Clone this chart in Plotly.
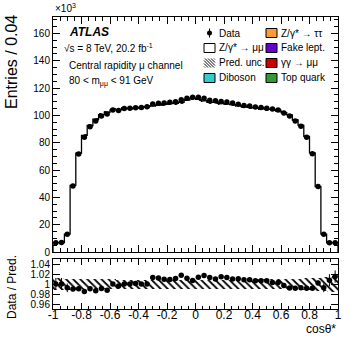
import numpy as np
import plotly.graph_objects as go

# bins of cos(theta*) , width 0.04
edges = np.round(np.linspace(-1, 1, 51), 2)
centers = (edges[:-1] + edges[1:]) / 2

# entries in units of 10^3
data = [6.8, 6.9, 13.0, 48.3, 71.7, 84.0, 91.7, 95.9, 99.6, 101.0,
        104.0, 103.6, 105.0, 105.2, 105.6, 105.8, 106.4, 108.3, 108.9, 109.1,
        109.6, 110.0, 111.5, 112.5, 113.2, 113.2, 112.5, 111.0, 110.7, 110.2,
        109.7, 109.0, 108.2, 107.3, 106.8, 106.2, 105.8, 105.2, 104.7, 104.0,
        101.7, 99.5, 95.8, 92.0, 84.0, 72.0, 48.0, 13.0, 6.8, 6.8]
pred = [6.8, 6.9, 13.1, 48.8, 72.4, 85.3, 92.6, 97.2, 100.5, 102.3,
        104.0, 104.0, 105.0, 105.2, 105.5, 105.8, 106.4, 106.9, 107.6, 108.1,
        108.6, 108.8, 109.6, 111.2, 112.4, 111.7, 110.6, 109.6, 109.6, 108.6,
        108.3, 107.9, 107.1, 106.4, 105.9, 105.5, 105.1, 104.5, 104.4, 103.7,
        102.0, 100.3, 96.6, 92.7, 84.7, 72.6, 47.9, 13.1, 6.75, 6.7]
# relative prediction uncertainty
unc = [0.012, 0.012, 0.011, 0.011, 0.011, 0.010, 0.010, 0.010, 0.010, 0.010,
       0.010, 0.009, 0.009, 0.009, 0.009, 0.009, 0.009, 0.009, 0.009, 0.009,
       0.009, 0.009, 0.009, 0.009, 0.009, 0.009, 0.009, 0.009, 0.009, 0.009,
       0.009, 0.009, 0.009, 0.009, 0.009, 0.010, 0.010, 0.010, 0.010, 0.010,
       0.010, 0.010, 0.011, 0.011, 0.012, 0.012, 0.013, 0.014, 0.015, 0.016]

xticks = [-1, -0.8, -0.6, -0.4, -0.2, 0, 0.2, 0.4, 0.6, 0.8, 1]
xticklabels = ["-1", "-0.8", "-0.6", "-0.4", "-0.2", "0", "0.2", "0.4", "0.6", "0.8", "1"]
rticks = [0.96, 0.98, 1.0, 1.02, 1.04]
rticklabels = ["0.96", "0.98", "1", "1.02", "1.04"]

data = np.array(data)
pred = np.array(pred)
unc = np.array(unc)
ratio = data / pred
ratio_err = ratio / np.sqrt(data * 1000)

FONT = "Liberation Sans, Arial, sans-serif"
W, H = 357, 344
L, R, T, B = 53, 338, 17, 309


def px(x):
    return (x - L) / (R - L)


def py(y):
    return (B - y) / (B - T)


hatch = dict(color="rgba(0,0,0,0)", line=dict(width=0),
             pattern=dict(shape="\\", fgcolor="black", bgcolor="rgba(0,0,0,0)",
                          size=5, solidity=0.35))

fig = go.Figure()

# prediction uncertainty on the main histogram
fig.add_trace(go.Bar(
    x=centers, base=pred * (1 - unc), y=pred * 2 * unc, width=0.04,
    marker=hatch, showlegend=False, xaxis="x", yaxis="y"))

# Z -> mumu prediction as a step histogram
xs = [edges[0]] + list(edges[:-1]) + [edges[-1], edges[-1]]
ys = [0] + list(pred) + [pred[-1], 0]
fig.add_trace(go.Scatter(
    x=xs, y=ys, mode="lines", line=dict(color="black", width=1.3, shape="hv"),
    showlegend=False, xaxis="x", yaxis="y"))

fig.add_trace(go.Scatter(
    x=centers, y=data, mode="markers",
    marker=dict(color="black", size=5.5),
    showlegend=False, xaxis="x", yaxis="y"))

# ratio panel
fig.add_trace(go.Bar(
    x=centers, base=1 - unc, y=2 * unc, width=0.04,
    marker=hatch, showlegend=False, xaxis="x2", yaxis="y2"))
fig.add_trace(go.Scatter(
    x=centers, y=ratio, mode="markers",
    marker=dict(color="black", size=5.5),
    error_y=dict(type="data", array=ratio_err, color="black", thickness=1, width=0),
    showlegend=False, xaxis="x2", yaxis="y2"))

axis_common = dict(showline=True, linecolor="black", linewidth=1, mirror="allticks",
                   ticks="inside", tickcolor="black", showgrid=False, zeroline=False,
                   automargin=False,
                   tickfont=dict(family=FONT, size=10, color="black"))

fig.update_layout(
    template="none",
    width=W, height=H,
    margin=dict(l=L, r=W - R, t=T, b=H - B, pad=0),
    paper_bgcolor="white", plot_bgcolor="white",
    barmode="overlay", bargap=0,
    font=dict(family=FONT, color="black"),
    showlegend=False,
    xaxis=dict(domain=[0, 1], range=[-1, 1], anchor="y", showticklabels=False,
               tickvals=xticks, ticklen=7,
               minor=dict(dtick=0.05, tick0=0, ticks="inside", ticklen=4, tickcolor="black"),
               **axis_common),
    yaxis=dict(domain=[py(252), 1], range=[0, 172], anchor="x",
               dtick=20, tick0=0, ticklen=7,
               minor=dict(dtick=5, tick0=0, ticks="inside", ticklen=4, tickcolor="black"),
               **axis_common),
    xaxis2=dict(domain=[0, 1], range=[-1, 1], anchor="y2", matches="x",
                tickvals=xticks, ticktext=xticklabels, ticklen=6, ticklabelstandoff=-5,
                minor=dict(dtick=0.05, tick0=0, ticks="inside", ticklen=3, tickcolor="black"),
                **{**axis_common, "tickfont": dict(family=FONT, size=12, color="black")}),
    yaxis2=dict(domain=[0, py(259)], range=[0.95, 1.05], anchor="x2",
                tickvals=rticks, ticktext=rticklabels, ticklen=7,
                **{**axis_common, "tickfont": dict(family=FONT, size=10, color="black")}),
)

ann = []


def text(x, y, s, size=10, xanchor="left", yanchor="middle", angle=0, **kw):
    ann.append(dict(x=px(x), y=py(y), xref="paper", yref="paper", text=s, showarrow=False,
                    xanchor=xanchor, yanchor=yanchor, textangle=angle,
                    font=dict(family=FONT, size=size, color="black"), **kw))


text(53, 8, "×10<sup>3</sup>", size=10)
text(12, 13, "Entries / 0.04", size=16, xanchor="center", yanchor="top", angle=-90)
text(12, 287, "Data / Pred.", size=12, xanchor="center", yanchor="middle", angle=-90)
text(338, 329, "cosθ*", size=12, xanchor="right")

text(67, 32, "<b><i>ATLAS</i></b>", size=12)
text(62, 48, "√s = 8 TeV, 20.2 fb<sup>-1</sup>", size=10)
text(67, 65, "Central rapidity μ channel", size=10)
text(67, 81, "80 < m<sub>μμ</sub> < 91 GeV", size=10)

# legend, two columns
rows = [33, 48, 63, 78]
col1 = ["Data", "Z/γ* → μμ", "Pred. unc.", "Diboson"]
col2 = ["Z/γ* → ττ", "Fake lept.", "γγ → μμ", "Top quark"]
col2_colors = ["#ff9933", "#6600cc", "#cc0000", "#339933"]
for r, s in zip(rows, col1):
    text(217, r, s, size=10)
for r, s in zip(rows, col2):
    text(279, r, s, size=10)

shapes = []


def box(cx, cy, fill):
    shapes.append(dict(type="rect", xref="paper", yref="paper",
                       x0=px(cx - 5.5), x1=px(cx + 5.5), y0=py(cy + 4.5), y1=py(cy - 4.5),
                       fillcolor=fill, line=dict(color="black", width=1)))


# data marker with error bar
shapes.append(dict(type="line", xref="paper", yref="paper",
                   x0=px(209.5), x1=px(209.5), y0=py(rows[0] + 4.5), y1=py(rows[0] - 4.5),
                   line=dict(color="black", width=1)))
shapes.append(dict(type="circle", xref="paper", yref="paper",
                   x0=px(207), x1=px(212), y0=py(rows[0] + 2.5), y1=py(rows[0] - 2.5),
                   fillcolor="black", line=dict(color="black", width=0)))
box(209.5, rows[1], "white")
box(209.5, rows[3], "#33cccc")
for r, c in zip(rows, col2_colors):
    box(271.5, r, c)

# hatch icon for prediction uncertainty
x0, x1, y0, y1 = 204, 215, rows[2] - 4.5, rows[2] + 4.5
for d in range(-8, 12, 3):
    pts = []
    for yy in (y0, y1):
        xx = x0 + (yy - y0) + d
        pts.append((xx, yy))
    (ax, ay), (bx, by) = pts
    if ax < x0:
        ay += x0 - ax
        ax = x0
    if bx > x1:
        by -= bx - x1
        bx = x1
    if ax >= bx:
        continue
    shapes.append(dict(type="line", xref="paper", yref="paper",
                       x0=px(ax), y0=py(ay), x1=px(bx), y1=py(by),
                       line=dict(color="black", width=1)))

fig.update_layout(annotations=ann, shapes=shapes)

fig.write_html("out.html", config={"displayModeBar": False},
               post_script="document.body.style.margin='0';")
